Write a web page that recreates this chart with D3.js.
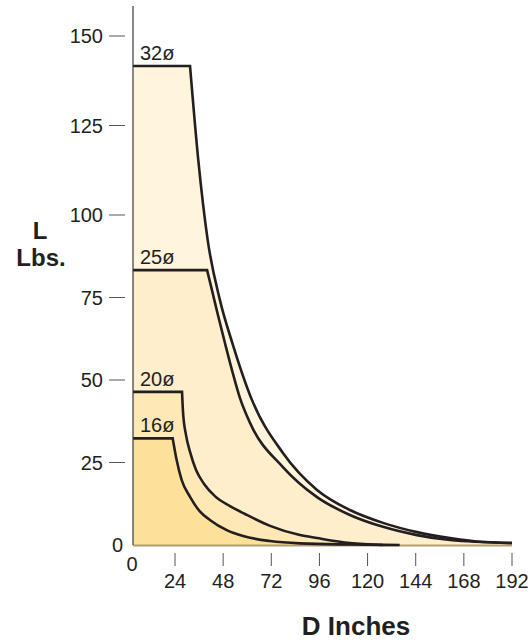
<!DOCTYPE html>
<html>
<head>
<meta charset="utf-8">
<script src="https://cdn.jsdelivr.net/npm/d3@7"></script>
<style>
  html, body { margin: 0; padding: 0; background: #ffffff; }
  svg { display: block; }
  text { font-family: "Liberation Sans", Arial, Helvetica, sans-serif; fill: #231f20; }
</style>
</head>
<body>
<svg id="chart" width="532" height="642"></svg>
<script>
// ---- data ----
const seriesNames = ["32ø", "25ø", "20ø", "16ø"];
const xTicks = [24, 48, 72, 96, 120, 144, 168, 192];
const yTicks = [25, 50, 75, 100, 125, 150];

const dist32 = [0, 31.5, 35.6, 40.3, 46.4, 52.9, 62.4, 77.8, 94.8, 111.2, 127.7, 144.6, 161.1, 177.5, 192];
const load32 = [141.6, 141.6, 115.4, 92.4, 74.2, 60.6, 43.9, 27.9, 16.7, 10.6, 6.7, 3.9, 2.1, 0.9, 0.6];

const dist25 = [0, 40.0, 42.4, 45.4, 48.9, 52.4, 56.4, 61.4, 77.8, 94.8, 111.2, 127.7, 144.6, 161.1, 192];
const load25 = [83.3, 83.3, 77.3, 69.7, 61.2, 53.0, 44.5, 37.0, 23.6, 14.5, 9.1, 5.5, 3.0, 1.5, 0.6];

const dist20 = [0, 27.5, 28.0, 29.5, 31.5, 34.5, 38.5, 43.9, 51.4, 58.9, 71.4, 86.3, 94.8, 111.2, 127.7];
const load20 = [46.4, 46.4, 40.3, 33.3, 28.2, 22.7, 18.5, 14.8, 11.8, 9.4, 5.8, 3.0, 2.1, 0.6, 0];

const dist16 = [0, 22.7, 24.8, 27.3, 31.5, 36.5, 41.4, 49.8, 58.0, 71.4, 86.3, 111.2, 136];
const load16 = [32.3, 32.3, 25.8, 19.7, 14.6, 10.1, 7.6, 4.5, 2.7, 1.2, 0.5, 0.15, 0];

const fills = ["#fff4dc", "#feeecb", "#fde8b6", "#fde19b"];

// ---- scales ----
const x = d3.scaleLinear().domain([0, 24, 192]).range([133, 175, 512]);
const y = d3.scaleLinear().domain([0, 100, 150]).range([545, 215, 36]);

const svg = d3.select("#chart");

const series = [
  { name: seriesNames[0], xs: dist32, ys: load32, fill: fills[0] },
  { name: seriesNames[1], xs: dist25, ys: load25, fill: fills[1] },
  { name: seriesNames[2], xs: dist20, ys: load20, fill: fills[2] },
  { name: seriesNames[3], xs: dist16, ys: load16, fill: fills[3] }
];

const curveGen = d3.line().x(d => x(d[0])).y(d => y(d[1])).curve(d3.curveMonotoneX);

function curvePath(s) {
  const pts = s.xs.map((v, i) => [v, s.ys[i]]);
  const decay = pts.slice(1);
  const tail = curveGen(decay).replace(/^M/, "L");
  return "M" + x(pts[0][0]) + "," + y(pts[0][1]) + tail;
}

// areas
series.forEach(s => {
  const last = s.xs[s.xs.length - 1];
  svg.append("path")
    .attr("d", curvePath(s) + "L" + x(last) + "," + y(0) + "L" + x(0) + "," + y(0) + "Z")
    .attr("fill", s.fill)
    .attr("stroke", "none");
});

// baseline
svg.append("line")
  .attr("x1", x(0)).attr("x2", x(192))
  .attr("y1", y(0) + 0.5).attr("y2", y(0) + 0.5)
  .attr("stroke", "#b49e6e").attr("stroke-width", 2);

// curves
series.forEach(s => {
  svg.append("path")
    .attr("d", curvePath(s))
    .attr("fill", "none")
    .attr("stroke", "#231f20")
    .attr("stroke-width", 2.6)
    .attr("stroke-linejoin", "miter");
});

// y axis line
svg.append("line")
  .attr("x1", x(0)).attr("x2", x(0))
  .attr("y1", 6).attr("y2", y(0))
  .attr("stroke", "#3a3a3a").attr("stroke-width", 1.2);

// y ticks
svg.selectAll(".ytick").data(yTicks).enter().append("line")
  .attr("x1", 109).attr("x2", 125)
  .attr("y1", d => y(d)).attr("y2", d => y(d))
  .attr("stroke", "#555").attr("stroke-width", 1);
svg.selectAll(".ylab").data(yTicks).enter().append("text")
  .attr("x", 103).attr("y", d => y(d)).attr("dy", "0.36em")
  .attr("text-anchor", "end").attr("font-size", 20)
  .text(d => d);
svg.append("text")
  .attr("x", 123).attr("y", y(0)).attr("dy", "0.36em")
  .attr("text-anchor", "end").attr("font-size", 20).text("0");

// x ticks
svg.selectAll(".xtick").data(xTicks).enter().append("line")
  .attr("x1", d => x(d)).attr("x2", d => x(d))
  .attr("y1", 553).attr("y2", 566)
  .attr("stroke", "#555").attr("stroke-width", 1);
svg.selectAll(".xlab").data(xTicks).enter().append("text")
  .attr("x", d => x(d)).attr("y", 588)
  .attr("text-anchor", "middle").attr("font-size", 20)
  .text(d => d);
svg.append("text")
  .attr("x", x(0) - 1).attr("y", 571)
  .attr("text-anchor", "middle").attr("font-size", 20).text("0");

// series labels
series.forEach(s => {
  svg.append("text")
    .attr("x", 140).attr("y", y(s.ys[0]) - 6)
    .attr("font-size", 20)
    .text(s.name);
});

// axis titles
svg.append("text").attr("x", 40).attr("y", 239)
  .attr("text-anchor", "middle").attr("font-size", 24).attr("font-weight", "bold").text("L");
svg.append("text").attr("x", 41).attr("y", 266)
  .attr("text-anchor", "middle").attr("font-size", 24).attr("font-weight", "bold").text("Lbs.");
svg.append("text").attr("x", 356).attr("y", 635)
  .attr("text-anchor", "middle").attr("font-size", 26).attr("font-weight", "bold").text("D Inches");
</script>
</body>
</html>
